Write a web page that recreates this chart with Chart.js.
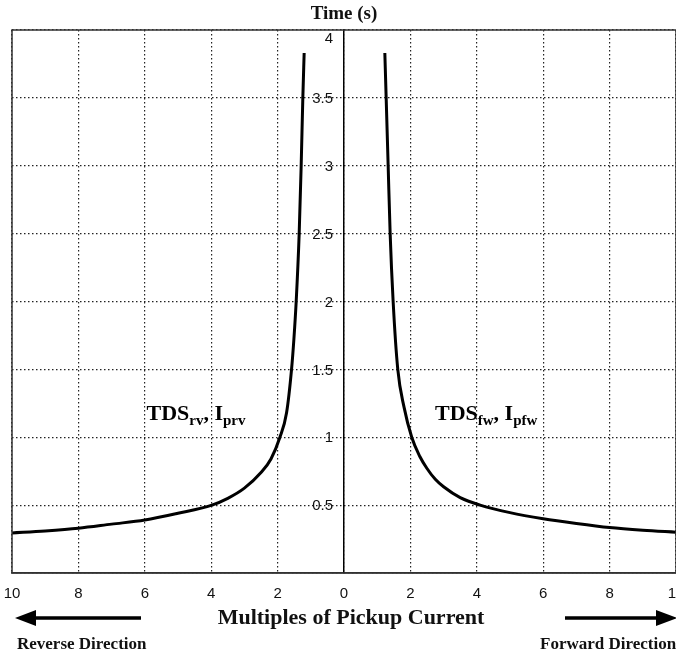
<!DOCTYPE html>
<html>
<head>
<meta charset="utf-8">
<script src="https://cdn.jsdelivr.net/npm/chart.js@4.4.0/dist/chart.umd.min.js"></script>
<style>
  html, body { margin: 0; padding: 0; background: #fff; }
  #wrap { width: 676px; height: 657px; position: relative; overflow: hidden; }
</style>
</head>
<body>
<div id="wrap"><canvas id="relayChart"></canvas></div>
<script>
// Forward direction curve (multiples of pickup current, time in s)
const forwardCurrent = [1.23, 1.27, 1.33, 1.39, 1.48, 1.62, 1.81, 2.04, 2.28, 2.5, 2.75, 3.0, 3.5, 4.1, 5, 6, 7, 8, 9, 10];
const forwardTime = [3.83, 3.5, 3.0, 2.5, 2.0, 1.5, 1.22, 1.0, 0.86, 0.77, 0.69, 0.635, 0.555, 0.5, 0.445, 0.40, 0.365, 0.335, 0.315, 0.30];

// Reverse direction curve (plotted on the negative side)
const reverseCurrent = [-1.20, -1.24, -1.29, -1.35, -1.44, -1.51, -1.58, -1.73, -1.93, -2.2, -2.5, -3.0, -3.5, -3.98, -5, -6, -7, -8, -9, -10];
const reverseTime = [3.83, 3.5, 3.0, 2.5, 2.0, 1.72, 1.5, 1.18, 1.0, 0.84, 0.74, 0.625, 0.55, 0.5, 0.44, 0.39, 0.36, 0.33, 0.31, 0.295];

const xTicks = [-10, -8, -6, -4, -2, 0, 2, 4, 6, 8, 10];
const yTicks = [0, 0.5, 1, 1.5, 2, 2.5, 3, 3.5, 4];
const yTickLabels = ['', '0.5', '1', '1.5', '2', '2.5', '3', '3.5', '4'];

function toPoints(xs, ys) {
    return xs.map((x, i) => ({ x: x, y: ys[i] }));
}

const serif = "'Liberation Serif', 'Times New Roman', serif";
const sans = "'Liberation Sans', Arial, sans-serif";

// frame, y labels beside the centre axis, titles, curve labels and arrows
const decorations = {
    id: 'decorations',
    afterDraw(chart) {
        const ctx = chart.ctx;
        const area = chart.chartArea;
        const xs = chart.scales.x;
        const ys = chart.scales.y;
        ctx.save();

        // plot frame
        ctx.strokeStyle = '#333';
        ctx.lineWidth = 1.5;
        ctx.strokeRect(area.left, area.top, area.right - area.left, area.bottom - area.top);

        // y tick labels, left of the x = 0 axis (top one sits below the frame)
        ctx.fillStyle = '#111';
        ctx.font = '15px ' + sans;
        ctx.textAlign = 'right';
        ctx.textBaseline = 'middle';
        const axisX = xs.getPixelForValue(0);
        yTicks.forEach((v, i) => {
            const py = ys.getPixelForValue(v) + (v === 4 ? 9 : 1);
            ctx.fillText(yTickLabels[i], axisX - 11, py);
        });

        // axis titles
        ctx.textAlign = 'center';
        ctx.font = 'bold 19px ' + serif;
        ctx.fillText('Time (s)', axisX, 14);
        ctx.font = 'bold 22px ' + serif;
        ctx.fillText('Multiples of Pickup Current', 351, 618);

        ctx.font = 'bold 17px ' + serif;
        ctx.textAlign = 'left';
        ctx.fillText('Reverse Direction', 17, 645);
        ctx.fillText('Forward Direction', 540, 645);

        // direction arrows
        ctx.strokeStyle = '#000';
        ctx.fillStyle = '#000';
        ctx.lineWidth = 3.5;
        ctx.beginPath();
        ctx.moveTo(30, 618); ctx.lineTo(141, 618);
        ctx.moveTo(565, 618); ctx.lineTo(662, 618);
        ctx.stroke();
        ctx.beginPath();
        ctx.moveTo(15, 618); ctx.lineTo(36, 610); ctx.lineTo(36, 626); ctx.closePath();
        ctx.moveTo(677, 618); ctx.lineTo(656, 610); ctx.lineTo(656, 626); ctx.closePath();
        ctx.fill();

        // curve labels with subscripts
        const yBase = ys.getPixelForValue(1.13);
        function label(x, parts) {
            let px = x;
            ctx.textAlign = 'left';
            ctx.textBaseline = 'alphabetic';
            parts.forEach(p => {
                ctx.font = 'bold ' + (p.sub ? 15 : 22) + 'px ' + serif;
                ctx.fillText(p.t, px, yBase + (p.sub ? 5 : 0));
                px += ctx.measureText(p.t).width;
            });
        }
        label(xs.getPixelForValue(-5.95), [
            { t: 'TDS' }, { t: 'rv', sub: true }, { t: ', I' }, { t: 'prv', sub: true }
        ]);
        label(xs.getPixelForValue(2.74), [
            { t: 'TDS' }, { t: 'fw', sub: true }, { t: ', I' }, { t: 'pfw', sub: true }
        ]);

        ctx.restore();
    }
};

new Chart(document.getElementById('relayChart'), {
    type: 'line',
    data: {
        datasets: [
            {
                label: 'Reverse',
                data: toPoints(reverseCurrent, reverseTime),
                borderColor: '#000',
                borderWidth: 3,
                pointRadius: 0,
                cubicInterpolationMode: 'monotone',
                fill: false
            },
            {
                label: 'Forward',
                data: toPoints(forwardCurrent, forwardTime),
                borderColor: '#000',
                borderWidth: 3,
                pointRadius: 0,
                cubicInterpolationMode: 'monotone',
                fill: false
            }
        ]
    },
    options: {
        responsive: true,
        maintainAspectRatio: false,
        animation: false,
        devicePixelRatio: 1,
        layout: { padding: { left: 12, right: 0, top: 30, bottom: 0 } },
        plugins: {
            legend: { display: false },
            tooltip: { enabled: false }
        },
        scales: {
            x: {
                type: 'linear',
                position: 'bottom',
                min: -10,
                max: 10,
                afterBuildTicks: axis => { axis.ticks = xTicks.map(v => ({ value: v })); },
                afterFit: axis => {
                    axis.height = 84;
                    axis.paddingLeft = 0;
                    axis.paddingRight = 0;
                },
                grid: { color: '#222', lineWidth: 1.2, drawTicks: false },
                border: { display: true, color: '#333', width: 1.5, dash: [1.5, 2.5] },
                ticks: {
                    autoSkip: false,
                    maxRotation: 0,
                    padding: 12,
                    color: '#111',
                    font: { family: sans, size: 15 },
                    callback: v => String(Math.abs(v))
                }
            },
            y: {
                type: 'linear',
                position: { x: 0 },
                min: 0,
                max: 4,
                afterBuildTicks: axis => { axis.ticks = yTicks.map(v => ({ value: v })); },
                grid: { color: '#222', lineWidth: 1.2, drawTicks: false },
                border: { display: true, color: '#000', width: 1.5, dash: [1.5, 2.5] },
                ticks: { display: false }
            }
        }
    },
    plugins: [decorations]
});
</script>
</body>
</html>
